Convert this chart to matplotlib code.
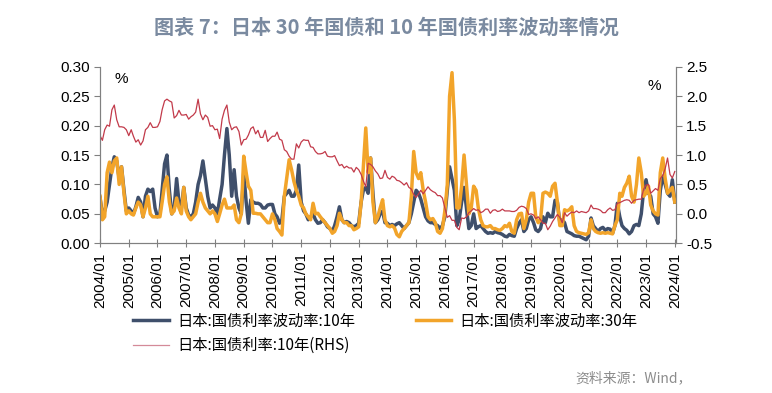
import numpy as np
import pandas as pd
import matplotlib
matplotlib.use("Agg")
import matplotlib.pyplot as plt
import matplotlib.dates as mdates

# monthly, 2004/01 .. 2024/01
dates = pd.date_range("2004-01-01", periods=241, freq="MS")

vol10 = [
    0.078, 0.05, 0.055, 0.07, 0.10, 0.13, 0.147, 0.14, 0.11, 0.13, 0.09, 0.055,
    0.06, 0.055, 0.05, 0.062, 0.078, 0.07, 0.045, 0.08, 0.092, 0.088, 0.092, 0.06,
    0.045, 0.05, 0.09, 0.135, 0.15, 0.09, 0.05, 0.06, 0.11, 0.07, 0.06, 0.095,
    0.06, 0.048, 0.045, 0.05, 0.07, 0.10, 0.115, 0.14, 0.11, 0.08, 0.06, 0.065,
    0.06, 0.05, 0.075, 0.10, 0.15, 0.195, 0.15, 0.08, 0.125, 0.08, 0.06, 0.05,
    0.12, 0.07, 0.034, 0.074, 0.07, 0.068, 0.068, 0.066, 0.06, 0.06, 0.065, 0.066,
    0.066, 0.05, 0.045, 0.034, 0.04, 0.08, 0.085, 0.09, 0.08, 0.08, 0.09, 0.133,
    0.07, 0.055, 0.05, 0.04, 0.045, 0.05, 0.04, 0.034, 0.035, 0.04, 0.035, 0.028,
    0.025, 0.02, 0.03, 0.045, 0.062, 0.04, 0.035, 0.037, 0.035, 0.03, 0.028, 0.03,
    0.034, 0.07, 0.09, 0.095, 0.085, 0.145, 0.085, 0.035, 0.04, 0.05, 0.055, 0.035,
    0.034, 0.03, 0.032, 0.03, 0.033, 0.035, 0.03, 0.025, 0.03, 0.035, 0.05, 0.07,
    0.09, 0.085, 0.075, 0.06, 0.045, 0.038, 0.035, 0.035, 0.032, 0.03, 0.025, 0.03,
    0.045, 0.09, 0.13, 0.11, 0.09, 0.03, 0.04, 0.07, 0.095, 0.06, 0.025, 0.03,
    0.05, 0.025, 0.028, 0.03, 0.025, 0.02, 0.017, 0.018, 0.017, 0.02, 0.018, 0.017,
    0.015, 0.012, 0.011, 0.015, 0.013, 0.012, 0.025, 0.034, 0.04, 0.02, 0.025, 0.04,
    0.045, 0.035, 0.023, 0.02, 0.025, 0.045, 0.035, 0.051, 0.045, 0.045, 0.073, 0.07,
    0.035, 0.04, 0.035, 0.02, 0.018, 0.016, 0.013, 0.012, 0.012, 0.01, 0.008, 0.006,
    0.012, 0.043, 0.03, 0.025, 0.02, 0.025, 0.027, 0.022, 0.025, 0.024, 0.017, 0.03,
    0.068, 0.045, 0.03, 0.025, 0.022, 0.016, 0.02, 0.03, 0.032, 0.03, 0.05, 0.09,
    0.108, 0.085, 0.08, 0.05, 0.045, 0.034, 0.09, 0.114, 0.10, 0.085, 0.08, 0.108,
    0.07,
]

vol30 = [
    0.08, 0.04, 0.045, 0.12, 0.138, 0.12, 0.14, 0.145, 0.10, 0.13, 0.085, 0.05,
    0.055, 0.05, 0.048, 0.06, 0.07, 0.065, 0.045, 0.06, 0.08, 0.05, 0.045, 0.045,
    0.045, 0.045, 0.07, 0.10, 0.113, 0.07, 0.05, 0.055, 0.077, 0.06, 0.05, 0.095,
    0.055, 0.045, 0.04, 0.045, 0.05, 0.07, 0.085, 0.07, 0.06, 0.055, 0.05, 0.055,
    0.05, 0.037, 0.05, 0.065, 0.075, 0.06, 0.06, 0.06, 0.065, 0.04, 0.035, 0.05,
    0.148, 0.12, 0.097, 0.09, 0.051, 0.051, 0.05, 0.05, 0.045, 0.04, 0.035, 0.035,
    0.05, 0.04, 0.025, 0.02, 0.014, 0.08, 0.11, 0.142, 0.125, 0.105, 0.09, 0.08,
    0.065, 0.06, 0.05, 0.045, 0.04, 0.068, 0.05, 0.051, 0.045, 0.04, 0.035, 0.03,
    0.025, 0.017, 0.02, 0.03, 0.051, 0.04, 0.035, 0.035, 0.03, 0.03, 0.023, 0.025,
    0.028, 0.07, 0.13, 0.196, 0.12, 0.145, 0.07, 0.035, 0.045, 0.06, 0.074, 0.04,
    0.03, 0.028, 0.03, 0.026, 0.015, 0.011, 0.02, 0.025, 0.03, 0.035, 0.08, 0.156,
    0.12, 0.11, 0.12, 0.09, 0.07, 0.045, 0.04, 0.042, 0.035, 0.02, 0.017, 0.025,
    0.055, 0.10, 0.25, 0.29, 0.21, 0.06, 0.06, 0.097, 0.15, 0.10, 0.05, 0.06,
    0.097, 0.09, 0.06, 0.04, 0.03, 0.028, 0.028, 0.03, 0.025, 0.025, 0.023, 0.022,
    0.025, 0.03, 0.028, 0.034, 0.02, 0.017, 0.04, 0.05, 0.051, 0.025, 0.04, 0.07,
    0.085, 0.085, 0.045, 0.035, 0.04, 0.085, 0.087, 0.085, 0.08, 0.097, 0.102, 0.07,
    0.03, 0.03, 0.057, 0.055, 0.057, 0.062, 0.03, 0.02, 0.018, 0.017, 0.016, 0.015,
    0.018, 0.04, 0.025, 0.02, 0.018, 0.017, 0.018, 0.017, 0.018, 0.017, 0.016, 0.03,
    0.04, 0.085, 0.08, 0.095, 0.102, 0.114, 0.08, 0.07, 0.10, 0.145, 0.12, 0.08,
    0.085, 0.097, 0.065, 0.055, 0.05, 0.048, 0.12, 0.145, 0.11, 0.085, 0.09, 0.095,
    0.07,
]

yield10 = [
    1.33, 1.25, 1.43, 1.51, 1.49, 1.77, 1.85, 1.60, 1.48, 1.48, 1.47, 1.43,
    1.33, 1.43, 1.32, 1.22, 1.26, 1.17, 1.24, 1.43, 1.47, 1.55, 1.47, 1.47,
    1.48, 1.57, 1.77, 1.92, 1.95, 1.92, 1.90, 1.63, 1.67, 1.76, 1.68, 1.68,
    1.69, 1.61, 1.65, 1.68, 1.73, 1.95, 1.70, 1.60, 1.68, 1.64, 1.49, 1.50,
    1.43, 1.44, 1.28, 1.61, 1.76, 1.85, 1.56, 1.43, 1.47, 1.48, 1.40, 1.17,
    1.26, 1.27, 1.34, 1.45, 1.48, 1.36, 1.42, 1.30, 1.30, 1.42, 1.23, 1.28,
    1.32, 1.32, 1.39, 1.27, 1.25, 1.09, 1.06, 0.98, 0.93, 0.93, 1.19, 1.12,
    1.22, 1.26, 1.25, 1.25, 1.14, 1.13, 1.06, 1.02, 1.02, 1.03, 1.06, 0.98,
    0.97, 0.97, 0.99, 0.90, 0.82, 0.84, 0.78, 0.81, 0.78, 0.78, 0.71, 0.79,
    0.75, 0.67, 0.56, 0.46, 0.86, 0.84, 0.80, 0.73, 0.68, 0.60, 0.61, 0.74,
    0.62, 0.59, 0.64, 0.62, 0.57, 0.56, 0.53, 0.49, 0.53, 0.45, 0.42, 0.33,
    0.28, 0.34, 0.40, 0.34, 0.40, 0.46, 0.41, 0.38, 0.36, 0.31, 0.31, 0.27,
    0.10, -0.06, -0.03, -0.11, -0.11, -0.23, -0.27, -0.07, -0.08, -0.05, 0.02, 0.05,
    0.09, 0.06, 0.07, 0.02, 0.04, 0.08, 0.08, 0.01, 0.06, 0.07, 0.04, 0.05,
    0.08, 0.05, 0.05, 0.05, 0.04, 0.04, 0.06, 0.11, 0.13, 0.12, 0.09, -0.01,
    0.00, -0.02, -0.08, -0.05, -0.10, -0.16, -0.16, -0.27, -0.21, -0.13, -0.07, -0.01,
    -0.06, -0.15, 0.02, -0.04, 0.00, 0.03, 0.02, 0.05, 0.02, 0.04, 0.03, 0.02,
    0.05, 0.15, 0.09, 0.09, 0.08, 0.06, 0.02, 0.02, 0.07, 0.10, 0.06, 0.07,
    0.18, 0.19, 0.21, 0.23, 0.24, 0.23, 0.18, 0.23, 0.24, 0.25, 0.25, 0.42,
    0.49, 0.50, 0.35, 0.39, 0.43, 0.40, 0.60, 0.65, 0.77, 0.95, 0.67, 0.61,
    0.72,
]

cjk = ['Noto Sans CJK SC', 'DejaVu Sans']
plt.rcParams['font.family'] = ['Liberation Sans', 'DejaVu Sans']

fig = plt.figure(figsize=(7.72, 3.93), dpi=100)
ax = fig.add_axes([0.1295, 0.381, 0.746, 0.449])
ax2 = ax.twinx()

l1, = ax.plot(dates, vol10, color='#3f4f6b', lw=2.5, label='日本:国债利率波动率:10年')
l2, = ax.plot(dates, vol30, color='#f2a42a', lw=2.5, label='日本:国债利率波动率:30年')
l3, = ax2.plot(dates, yield10, color='#c23a4a', lw=0.9, label='日本:国债利率:10年(RHS)')

ax.set_ylim(0, 0.30)
ax.set_yticks(np.arange(0, 0.301, 0.05))
ax.set_yticklabels(['%.2f' % v for v in np.arange(0, 0.301, 0.05)])
ax2.set_ylim(-0.5, 2.5)
ax2.set_yticks(np.arange(-0.5, 2.51, 0.5))
ax2.set_yticklabels(['%.1f' % v for v in np.arange(-0.5, 2.51, 0.5)])

ax.set_xlim(pd.Timestamp('2004-01-01'), pd.Timestamp('2024-01-15'))
years = pd.date_range("2004-01-01", "2024-01-01", freq="YS")
ax.set_xticks(years)
ax.set_xticklabels([d.strftime('%Y/%m') for d in years], rotation=90)

for a in (ax, ax2):
    a.spines['top'].set_visible(False)
    for s in ('left', 'right', 'bottom'):
        a.spines[s].set_color('#808080')
        a.spines[s].set_linewidth(0.8)
ax.tick_params(axis='y', labelsize=11, colors='#808080', labelcolor='black', length=4)
ax2.tick_params(axis='y', labelsize=11, colors='#808080', labelcolor='black', length=4)
ax.tick_params(axis='x', labelsize=11, colors='#808080', labelcolor='black',
               direction='inout', length=6)

ax.text(0.025, 0.93, '%', transform=ax.transAxes, fontsize=11, va='center')
ax.text(0.95, 0.89, '%', transform=ax.transAxes, fontsize=11, va='center')

fig.text(0.5, 0.93, '图表 7：日本 30 年国债和 10 年国债利率波动率情况', ha='center', va='center',
         fontsize=14.5, fontweight='bold', color='#7a8aa0', family=cjk)

leg = fig.legend([l1, l3, l2], [l1.get_label(), l3.get_label(), l2.get_label()],
                 ncol=2, loc='upper left', bbox_to_anchor=(0.165, 0.22), frameon=False,
                 prop={'family': cjk, 'size': 11}, handlelength=2.3, handletextpad=0.55,
                 columnspacing=4.0, labelspacing=0.5, borderaxespad=0)
leg.legend_handles[1].set_color('#d48a98')

fig.text(0.745, 0.038, '资料来源：Wind，', fontsize=10, color='#8c8c8c', family=cjk, va='center')

fig.savefig('out.png', dpi=100)
